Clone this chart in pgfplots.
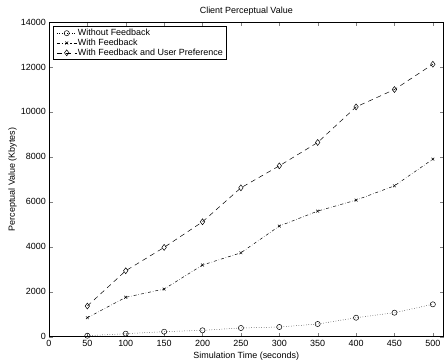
\documentclass[border=0pt]{standalone}
\usepackage{pgfplots}
\pgfplotsset{compat=1.18}
\usepackage{fontspec}
\setmainfont{Liberation Sans}
\begin{document}
\fontsize{9}{10.5}\selectfont
\begin{tikzpicture}
\begin{axis}[
  at={(0,0)}, anchor=south west,
  scale only axis, width=395bp, height=315bp,
  xmin=0, xmax=514, ymin=0, ymax=14000,
  xtick={0,50,...,500}, ytick={0,2000,...,14000},
  tick align=inside, major tick length=4bp,
  axis line style={line width=0.8pt},
  /pgf/number format/assume math mode=true,
  scaled ticks=false,
  yticklabel style={/pgf/number format/1000 sep={}},
  xticklabel style={/pgf/number format/1000 sep={}},
  tick label style={font=\fontsize{9}{10.5}\selectfont},
  title={Client Perceptual Value},
  title style={yshift=-3pt},
  xlabel={Simulation Time (seconds)},
  ylabel={Perceptual Value (Kbytes)},
  xlabel style={yshift=0pt},
  ylabel style={yshift=-2pt},
  legend cell align=left,
  legend style={at={(rel axis cs:0.01,0.987)}, anchor=north west, draw=black, line width=1.4pt, inner xsep=3pt, inner ysep=1.5pt, row sep=0pt, font=\fontsize{9}{10.5}\selectfont, nodes={inner sep=1pt}},
  legend image code/.code={%
    \draw[#1, line width=0.5pt] (0cm,0cm) -- (0.7cm,0cm);
    \draw[#1, line width=0.5pt, solid] plot coordinates {(0.35cm,0cm)};
  },
]
\addplot[black, dotted, line width=0.5pt, mark=o, mark size=2.6pt, mark options={solid}] coordinates {
(50,44)(100,133)(150,222)(200,284)(250,387)(300,431)(350,564)(400,844)(450,1067)(500,1440)};
\addlegendentry{Without Feedback}
\addplot[black, dash dot, line width=0.5pt, mark=x, mark size=2pt, mark options={solid}] coordinates {
(50,844)(100,1751)(150,2120)(200,3187)(250,3733)(300,4920)(350,5587)(400,6075)(450,6711)(500,7898)};
\addlegendentry{With Feedback}
\addplot[black, dash pattern=on 5pt off 4pt, line width=0.5pt, mark=diamond, mark size=3pt, mark options={solid}] coordinates {
(50,1364)(100,2933)(150,3973)(200,5111)(250,6622)(300,7600)(350,8640)(400,10222)(450,10995)(500,12120)};
\addlegendentry{With Feedback and User Preference}
\end{axis}
\path[use as bounding box] (-49bp,-25bp) rectangle (395bp,337bp);
\end{tikzpicture}
\end{document}
